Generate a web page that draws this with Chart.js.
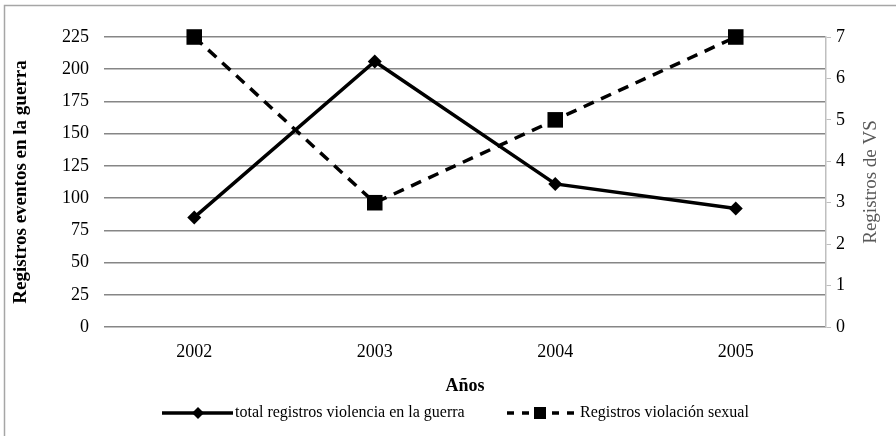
<!DOCTYPE html>
<html>
<head>
<meta charset="utf-8">
<script src="https://cdn.jsdelivr.net/npm/chart.js@4/dist/chart.umd.min.js"></script>
<style>
html,body{margin:0;padding:0;background:#fff;}
#wrap{width:896px;height:436px;position:relative;}
</style>
</head>
<body>
<div id="wrap"><canvas id="c" width="896" height="436"></canvas></div>
<script>
const years = ['2002', '2003', '2004', '2005'];
const totalViolencia = [85, 206, 111, 92];
const violacionSexual = [7, 3, 5, 7];
const leftTicks = [0, 25, 50, 75, 100, 125, 150, 175, 200, 225];
const rightTicks = [0, 1, 2, 3, 4, 5, 6, 7];
const seriesNames = ['total registros violencia en la guerra', 'Registros violación sexual'];
const leftTitle = 'Registros eventos en la guerra';
const rightTitle = 'Registros de VS';

const FONT = "'Liberation Serif', 'Times New Roman', serif";

const framePlugin = {
  id: 'frame',
  beforeDraw(chart) {
    const ctx = chart.ctx;
    ctx.save();
    ctx.fillStyle = '#fff';
    ctx.fillRect(0, 0, chart.width, chart.height);
    ctx.strokeStyle = '#a6a6a6';
    ctx.lineWidth = 1.5;
    ctx.strokeRect(4.5, 5.5, 900, 440);
    ctx.restore();
  }
};

const titlesPlugin = {
  id: 'axisTitles',
  afterDraw(chart) {
    const ctx = chart.ctx;
    const ca = chart.chartArea;
    const cy = (ca.top + ca.bottom) / 2;
    ctx.save();
    ctx.textAlign = 'center';
    ctx.textBaseline = 'middle';
    ctx.translate(21, cy);
    ctx.rotate(-Math.PI / 2);
    ctx.fillStyle = '#000';
    ctx.font = "bold 19px " + FONT;
    ctx.fillText(leftTitle, 0, 0);
    ctx.restore();
    ctx.save();
    ctx.textAlign = 'center';
    ctx.textBaseline = 'middle';
    ctx.translate(871, cy);
    ctx.rotate(-Math.PI / 2);
    ctx.fillStyle = '#595959';
    ctx.font = "19px " + FONT;
    ctx.fillText(rightTitle, 0, 0);
    ctx.restore();
  }
};

const legendPlugin = {
  id: 'customLegend',
  afterDraw(chart) {
    const ctx = chart.ctx;
    const y = 413;
    ctx.save();
    ctx.strokeStyle = '#000';
    ctx.fillStyle = '#000';
    ctx.lineWidth = 3.5;
    ctx.setLineDash([]);
    ctx.beginPath(); ctx.moveTo(162, y); ctx.lineTo(233, y); ctx.stroke();
    ctx.beginPath();
    ctx.moveTo(198 - 6, y); ctx.lineTo(198, y - 6); ctx.lineTo(198 + 6, y); ctx.lineTo(198, y + 6);
    ctx.closePath(); ctx.fill();
    ctx.font = "16px " + FONT;
    ctx.textBaseline = 'middle';
    ctx.textAlign = 'left';
    ctx.fillText(seriesNames[0], 235, y);
    ctx.setLineDash([7, 8]);
    ctx.beginPath(); ctx.moveTo(507, y); ctx.lineTo(578, y); ctx.stroke();
    ctx.setLineDash([]);
    ctx.fillRect(540 - 6, y - 6, 12, 12);
    ctx.fillText(seriesNames[1], 580, y);
    ctx.restore();
  }
};

new Chart(document.getElementById('c'), {
  type: 'line',
  data: {
    labels: years,
    datasets: [
      {
        label: seriesNames[0],
        data: totalViolencia,
        yAxisID: 'y',
        borderColor: '#000',
        backgroundColor: '#000',
        borderWidth: 3.5,
        pointStyle: 'rectRot',
        pointRadius: 7,
        pointHoverRadius: 7,
        pointBorderWidth: 0,
        tension: 0,
        clip: false
      },
      {
        label: seriesNames[1],
        data: violacionSexual,
        yAxisID: 'y1',
        borderColor: '#000',
        backgroundColor: '#000',
        borderWidth: 3.5,
        borderDash: [11, 8],
        pointStyle: 'rect',
        pointRadius: 11,
        pointHoverRadius: 11,
        pointBorderWidth: 0,
        tension: 0,
        clip: false
      }
    ]
  },
  options: {
    responsive: false,
    animation: false,
    events: [],
    layout: { padding: { left: 5, right: 5, top: 37, bottom: 39 } },
    plugins: { legend: { display: false }, tooltip: { enabled: false } },
    scales: {
      x: {
        offset: true,
        grid: { display: false, drawTicks: false },
        border: { display: false },
        ticks: { color: '#000', font: { family: FONT, size: 18 }, padding: 14 },
        title: { display: true, text: 'Años', color: '#000', font: { family: FONT, size: 18, weight: 'bold' }, padding: { top: 10, bottom: 0 } },
        afterFit(s) { s.height = 70; }
      },
      y: {
        position: 'left',
        min: 0, max: 225,
        afterBuildTicks(s) { s.ticks = leftTicks.map(v => ({ value: v })); },
        grid: { color: '#868686', lineWidth: 1.5, drawTicks: false },
        border: { display: false },
        ticks: { color: '#000', font: { family: FONT, size: 18 }, padding: 15 },
        title: { display: false },
        afterFit(s) { s.width = 99; }
      },
      y1: {
        position: 'right',
        min: 0, max: 7,
        afterBuildTicks(s) { s.ticks = rightTicks.map(v => ({ value: v })); },
        grid: { drawOnChartArea: false, color: '#bfbfbf', tickLength: 5, lineWidth: 1 },
        border: { display: true, color: '#bfbfbf', width: 1.5 },
        ticks: { color: '#000', font: { family: FONT, size: 18 }, padding: 5 },
        title: { display: false },
        afterFit(s) { s.width = 65; }
      }
    }
  },
  plugins: [framePlugin, titlesPlugin, legendPlugin]
});
</script>
</body>
</html>
